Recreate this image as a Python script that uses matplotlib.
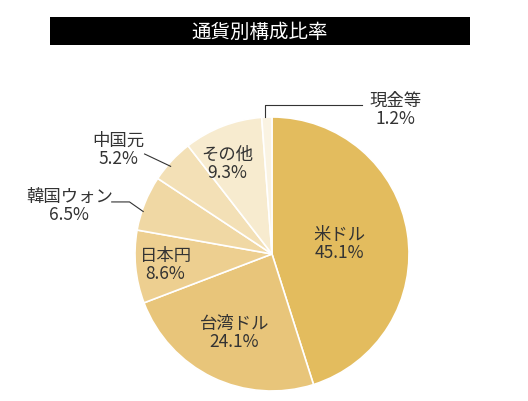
import matplotlib
matplotlib.use("Agg")
import matplotlib.pyplot as plt
import numpy as np
from matplotlib.patches import Rectangle

plt.rcParams['font.family'] = ['Noto Sans CJK JP', 'DejaVu Sans']

labels = ["米ドル", "台湾ドル", "日本円", "韓国ウォン", "中国元", "その他", "現金等"]
values = [45.1, 24.1, 8.6, 6.5, 5.2, 9.3, 1.2]
colors = ["#E3BC5E", "#E8C57A", "#EDCF90", "#F0D8A4", "#F3E0B6", "#F7EBCF", "#FAF3E2"]
title = "通貨別構成比率"

W, H = 528, 402
fig = plt.figure(figsize=(W/100, H/100), dpi=100)
fig.patches.append(Rectangle((50/W, 1-46/H), 420/W, 28/H, transform=fig.transFigure,
                             facecolor="black", edgecolor="none"))
fig.text(260/W, 1-32/H, title, color="white", fontsize=14, ha="center", va="center")

ax = fig.add_axes([(272-137)/W, 10/H, 274/W, 274/H])
wedges, _ = ax.pie(values, colors=colors, startangle=90, counterclock=False,
                   wedgeprops=dict(edgecolor="white", linewidth=1.2))
ax.set_xlim(-1, 1); ax.set_ylim(-1, 1); ax.set_aspect("equal")

cum = np.cumsum([0] + values[:-1])
mids = 90 - (cum + np.array(values) / 2) * 3.6
fs = 12.5
tc = "#333333"
inside = {0: 0.50, 1: 0.63, 2: 0.78, 5: 0.74}
for i, r in inside.items():
    a = np.deg2rad(mids[i])
    if i == 5:
        a = np.deg2rad(116)
    ax.text(r*np.cos(a), r*np.sin(a), f"{labels[i]}\n{values[i]}%", ha="center", va="center",
            fontsize=fs, color=tc, linespacing=1.0)

kw = dict(ha="center", va="center", fontsize=fs, color=tc, linespacing=1.0, clip_on=False)
lk = dict(color=tc, lw=0.8, clip_on=False)
# 韓国ウォン
ax.text(-1.48, 0.36, f"{labels[3]}\n{values[3]}%", **kw)
ax.plot([-1.17, -1.04, -0.94], [0.38, 0.38, 0.31], **lk)
# 中国元
ax.text(-1.12, 0.77, f"{labels[4]}\n{values[4]}%", **kw)
ax.plot([-0.93, -0.74], [0.73, 0.64], **lk)
# 現金等
ax.text(0.90, 1.06, f"{labels[6]}\n{values[6]}%", **kw)
ax.plot([-0.05, -0.05, 0.66], [1.0, 1.09, 1.09], **lk)

fig.savefig("out.png", dpi=100)
